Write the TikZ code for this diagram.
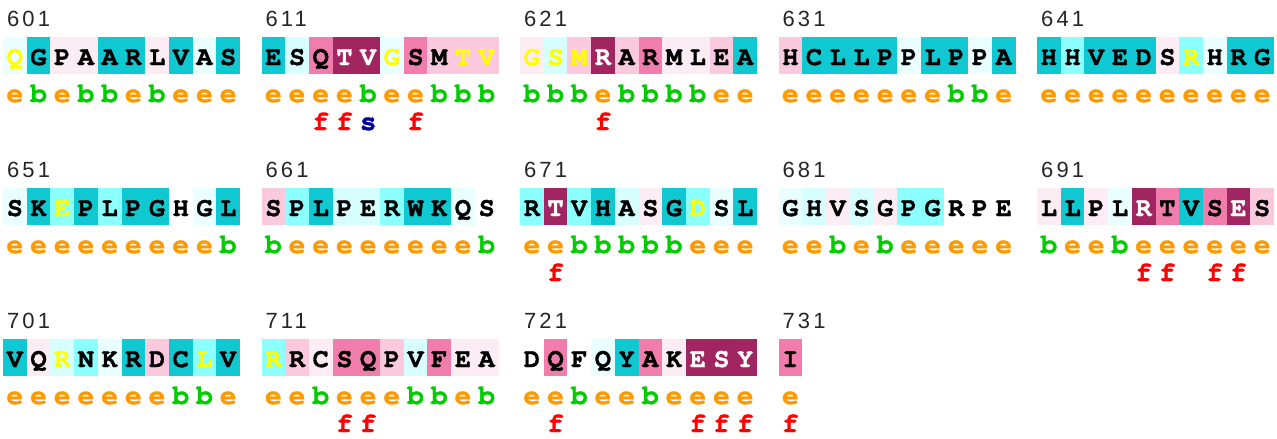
\documentclass[tikz,border=0pt]{standalone}
\usepackage{fontspec}
\newfontfamily\resfont{texgyrecursor}[Extension=.otf, UprightFont=*-regular, BoldFont=*-bold, BoldFeatures={FakeBold=1.2}]
\newfontfamily\numfont{Liberation Sans}[LetterSpace=14]
\definecolor{g1}{HTML}{10C8D1}
\definecolor{g2}{HTML}{8CFFFF}
\definecolor{g3}{HTML}{D7FFFF}
\definecolor{g4}{HTML}{EAFFFF}
\definecolor{g5}{HTML}{FFFFFF}
\definecolor{g6}{HTML}{FCEDF4}
\definecolor{g7}{HTML}{FAC9DE}
\definecolor{g8}{HTML}{F07DAB}
\definecolor{g9}{HTML}{A02560}
\definecolor{tk}{HTML}{000000}
\definecolor{tw}{HTML}{FFFFFF}
\definecolor{ty}{HTML}{FFFF00}
\definecolor{ce}{HTML}{FF9900}
\definecolor{cb}{HTML}{00CC00}
\definecolor{cf}{HTML}{FF0000}
\definecolor{cs}{HTML}{000099}
\tikzset{
  rescell/.style={rectangle, inner sep=0pt, outer sep=0pt, minimum width=23.7pt,
    minimum height=37pt, text height=19pt, text depth=0pt, anchor=north west,
    font=\resfont\bfseries\fontsize{27}{27}\selectfont},
  annot/.style={inner sep=0pt, anchor=base, font=\resfont\bfseries\fontsize{28}{28}\selectfont},
  numlab/.style={inner sep=0pt, anchor=base west, text=black!85, font=\numfont\fontsize{22}{22}\selectfont}
}
\newcommand\seqblock[4]{%
  \pgfmathsetmacro\sbx{3+258.5*#1}%
  \pgfmathsetmacro\sby{37+151*#2}%
  \node[numlab] (n#3) at (\sbx+4,\sby-11) {#3};
  \foreach \sL/\sG/\sT/\sA/\sF [count=\i from 0] in {#4} {
    \node[rescell, fill=g\sG, text=t\sT] (r#3-\i) at (\sbx+\i*23.7,\sby) {\sL};
    \node[annot, text=c\sA] (a#3-\i) at (\sbx+\i*23.7+11.85,\sby+65) {\sA};
    \def\sNone{n}%
    \ifx\sF\sNone\else
      \node[annot, text=c\sF] (f#3-\i) at (\sbx+\i*23.7+11.85,\sby+93) {\sF};
    \fi
  }
}
\begin{document}
\begin{tikzpicture}[x=1pt,y=-1pt]
\useasboundingbox[fill=white] (0,0) rectangle (1277,439);
\seqblock{0}{0}{601}{Q/4/y/e/n,G/1/k/b/n,P/6/k/e/n,A/6/k/b/n,A/1/k/b/n,R/1/k/e/n,L/6/k/b/n,V/1/k/e/n,A/4/k/e/n,S/1/k/e/n}
\seqblock{1}{0}{611}{E/1/k/e/n,S/3/k/e/n,Q/8/k/e/f,T/9/w/e/f,V/9/w/b/s,G/4/y/e/n,S/8/k/e/f,M/7/k/b/n,T/7/y/b/n,V/7/y/b/n}
\seqblock{2}{0}{621}{G/6/y/b/n,S/3/y/b/n,M/7/y/b/n,R/9/w/e/f,A/7/k/b/n,R/8/k/b/n,M/6/k/b/n,L/6/k/b/n,E/7/k/e/n,A/1/k/e/n}
\seqblock{3}{0}{631}{H/7/k/e/n,C/1/k/e/n,L/1/k/e/n,L/1/k/e/n,P/1/k/e/n,P/4/k/e/n,L/1/k/e/n,P/1/k/b/n,P/4/k/b/n,A/1/k/e/n}
\seqblock{4}{0}{641}{H/1/k/e/n,H/2/k/e/n,V/1/k/e/n,E/1/k/e/n,D/1/k/e/n,S/6/k/e/n,R/2/y/e/n,H/4/k/e/n,R/1/k/e/n,G/1/k/e/n}
\seqblock{0}{1}{651}{S/4/k/e/n,K/1/k/e/n,E/2/y/e/n,P/1/k/e/n,L/2/k/e/n,P/1/k/e/n,G/1/k/e/n,H/5/k/e/n,G/4/k/e/n,L/1/k/b/n}
\seqblock{1}{1}{661}{S/7/k/b/n,P/2/k/e/n,L/1/k/e/n,P/3/k/e/n,E/3/k/e/n,R/2/k/e/n,W/1/k/e/n,K/1/k/e/n,Q/4/k/e/n,S/5/k/b/n}
\seqblock{2}{1}{671}{R/2/k/e/n,T/9/w/e/f,V/2/k/b/n,H/1/k/b/n,A/3/k/b/n,S/6/k/b/n,G/1/k/b/n,D/2/y/e/n,S/4/k/e/n,L/1/k/e/n}
\seqblock{3}{1}{681}{G/4/k/e/n,H/3/k/e/n,V/6/k/b/n,S/3/k/e/n,G/6/k/b/n,P/2/k/e/n,G/2/k/e/n,R/5/k/e/n,P/5/k/e/n,E/5/k/e/n}
\seqblock{4}{1}{691}{L/6/k/b/n,L/1/k/e/n,P/6/k/e/n,L/4/k/b/n,R/9/w/e/f,T/8/k/e/f,V/1/k/e/n,S/8/k/e/f,E/9/w/e/f,S/7/k/e/n}
\seqblock{0}{2}{701}{V/1/k/e/n,Q/6/k/e/n,R/3/y/e/n,N/2/k/e/n,K/4/k/e/n,R/1/k/e/n,D/7/k/e/n,C/1/k/b/n,L/2/y/b/n,V/1/k/e/n}
\seqblock{1}{2}{711}{R/2/y/e/n,R/7/k/e/n,C/6/k/b/n,S/8/k/e/f,Q/8/k/e/f,P/7/k/e/n,V/3/k/b/n,F/8/k/b/n,E/6/k/e/n,A/6/k/b/n}
\seqblock{2}{2}{721}{D/5/k/e/n,Q/8/k/e/f,F/5/k/b/n,Q/4/k/e/n,Y/1/k/e/n,A/8/k/b/n,K/6/k/e/n,E/9/w/e/f,S/9/w/e/f,Y/9/w/e/f}
\seqblock{3}{2}{731}{I/8/k/e/f}
\end{tikzpicture}
\end{document}
